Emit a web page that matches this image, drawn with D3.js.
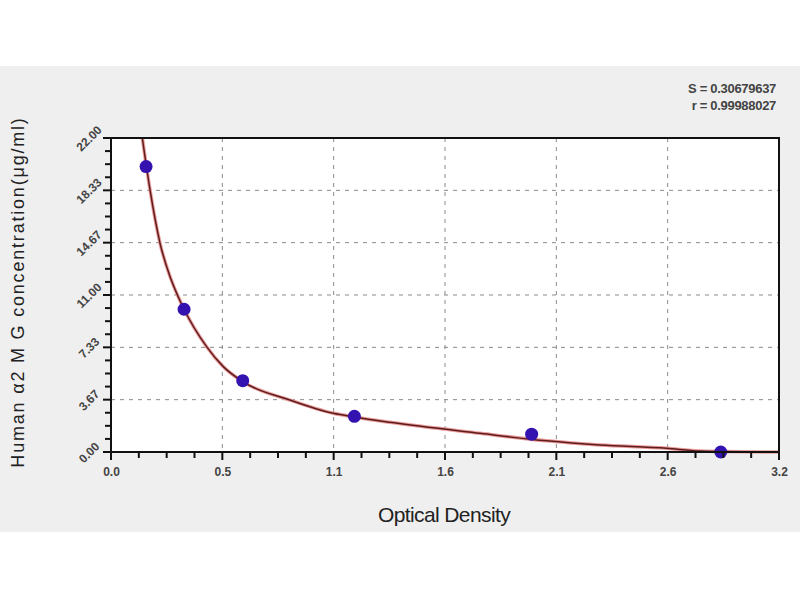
<!DOCTYPE html>
<html>
<head>
<meta charset="utf-8">
<script src="https://cdn.jsdelivr.net/npm/d3@7"></script>
<style>
  body { margin: 0; background: #fff; }
  text { font-family: "Liberation Sans", Arial, sans-serif; }
</style>
</head>
<body>
<div id="svg-container"></div>
<script>
const Width = 800;
const Height = 600;

// standards: optical density vs concentration
const odValues = [0.168, 0.350, 0.631, 1.166, 2.015, 2.921];
const concValues = [20.0, 10.0, 5.0, 2.5, 1.25, 0.0];

// fitted curve
const curveOd = [0.150, 0.187, 0.235, 0.283, 0.322, 0.350, 0.458, 0.538, 0.631, 0.857, 1.065, 1.166, 1.336, 1.768, 2.087, 2.342, 2.662, 2.821, 3.200];
const curveConc = [22.0, 18.36, 14.62, 12.28, 10.88, 10.0, 7.38, 5.98, 4.93, 3.64, 2.71, 2.45, 2.08, 1.31, 0.78, 0.49, 0.26, 0.07, 0.0];

const xTickLabels = ["0.0", "0.5", "1.1", "1.6", "2.1", "2.6", "3.2"];
const yTickLabels = ["0.00", "3.67", "7.33", "11.00", "14.67", "18.33", "22.00"];
const statLines = ["S = 0.30679637", "r = 0.99988027"];

const plotLeft = 111, plotRight = 779, plotTop = 138, plotBottom = 452;

const svg = d3.select("#svg-container").append("svg")
    .attr("width", Width).attr("height", Height);

// grey panel
svg.append("rect")
    .attr("x", 0).attr("y", 66)
    .attr("width", Width).attr("height", 466)
    .attr("fill", "#efefef");

const x = d3.scaleLinear().domain([0, 3.2]).range([plotLeft, plotRight]);
const y = d3.scaleLinear().domain([0, 22]).range([plotBottom, plotTop]);

const xTicks = d3.range(7).map(i => i * 3.2 / 6);
const yTicks = d3.range(7).map(i => i * 22 / 6);
const xMinor = d3.range(25).map(i => i * 3.2 / 24);
const yMinor = d3.range(25).map(i => i * 22 / 24);

// plot area
svg.append("rect")
    .attr("x", plotLeft).attr("y", plotTop)
    .attr("width", plotRight - plotLeft).attr("height", plotBottom - plotTop)
    .attr("fill", "white");

// grid
svg.append("g").selectAll("line")
    .data(xTicks.slice(1, -1))
    .join("line")
    .attr("x1", d => x(d)).attr("x2", d => x(d))
    .attr("y1", plotTop).attr("y2", plotBottom)
    .attr("stroke", "#8a8a8a")
    .attr("stroke-dasharray", "4,5");
svg.append("g").selectAll("line")
    .data(yTicks.slice(1, -1))
    .join("line")
    .attr("x1", plotLeft).attr("x2", plotRight)
    .attr("y1", d => y(d)).attr("y2", d => y(d))
    .attr("stroke", "#8a8a8a")
    .attr("stroke-dasharray", "4,5");

// tick labels through axes
svg.append("g").attr("transform", `translate(0,${plotBottom})`)
    .call(d3.axisBottom(x).tickValues(xTicks).tickSize(0).tickFormat((d, i) => xTickLabels[i]))
    .call(g => g.select(".domain").remove())
    .call(g => g.selectAll("text")
        .attr("y", 15)
        .attr("font-size", 12)
        .attr("font-weight", "bold")
        .attr("fill", "#444"));

svg.append("g").attr("transform", `translate(${plotLeft},0)`)
    .call(d3.axisLeft(y).tickValues(yTicks).tickSize(0).tickFormat((d, i) => yTickLabels[i]))
    .call(g => g.select(".domain").remove())
    .call(g => g.selectAll("text")
        .attr("x", null)
        .attr("text-anchor", "middle")
        .attr("transform", "translate(-22,0) rotate(-45)")
        .attr("dy", "0.35em")
        .attr("font-size", 12)
        .attr("font-weight", "bold")
        .attr("fill", "#444"));

// fitted curve
const curveData = curveOd.map((d, i) => ({ od: d, c: curveConc[i] }));
const lineGenerator = d3.line()
    .x(d => x(d.od))
    .y(d => y(d.c))
    .curve(d3.curveMonotoneX);

svg.append("path")
    .attr("d", lineGenerator(curveData))
    .attr("fill", "none")
    .attr("stroke", "#e99a9a")
    .attr("stroke-width", 3.5);
svg.append("path")
    .attr("d", lineGenerator(curveData))
    .attr("fill", "none")
    .attr("stroke", "#5e1c1c")
    .attr("stroke-width", 1.5);

// standard points
svg.append("g").selectAll("circle")
    .data(odValues.map((d, i) => ({ od: d, c: concValues[i] })))
    .join("circle")
    .attr("cx", d => x(d.od))
    .attr("cy", d => y(d.c))
    .attr("r", 6.5)
    .attr("fill", "#3412b0");

// frame
svg.append("rect")
    .attr("x", plotLeft).attr("y", plotTop)
    .attr("width", plotRight - plotLeft).attr("height", plotBottom - plotTop)
    .attr("fill", "none")
    .attr("stroke", "#111")
    .attr("stroke-width", 2);

// tick marks (minor every quarter, major longer)
const tickG = svg.append("g");
xMinor.forEach((d, i) => {
    tickG.append("line")
        .attr("x1", x(d)).attr("x2", x(d))
        .attr("y1", plotBottom)
        .attr("y2", plotBottom + (i % 4 === 0 ? 8 : 6))
        .style("stroke", "#111")
        .style("stroke-width", "2px");
});
yMinor.forEach((d, i) => {
    tickG.append("line")
        .attr("y1", y(d)).attr("y2", y(d))
        .attr("x1", plotLeft)
        .attr("x2", plotLeft - (i % 4 === 0 ? 8 : 6))
        .style("stroke", "#111")
        .style("stroke-width", "2px");
});

// axis titles
svg.append("text")
    .attr("x", 444)
    .attr("y", 522)
    .attr("text-anchor", "middle")
    .attr("font-size", 21)
    .attr("letter-spacing", -0.6)
    .attr("fill", "#222")
    .text("Optical Density");

svg.append("text")
    .attr("transform", `translate(24,292) rotate(-90)`)
    .attr("text-anchor", "middle")
    .attr("font-size", 18)
    .attr("letter-spacing", 1.8)
    .attr("fill", "#222")
    .text("Human α2 M G concentration(μg/ml)");

// fit statistics
svg.append("g").selectAll("text")
    .data(statLines)
    .join("text")
    .attr("x", 776)
    .attr("y", (d, i) => 93 + i * 17)
    .attr("text-anchor", "end")
    .attr("font-size", 13)
    .attr("font-weight", "bold")
    .attr("letter-spacing", -0.3)
    .attr("fill", "#444")
    .text(d => d);
</script>
</body>
</html>
